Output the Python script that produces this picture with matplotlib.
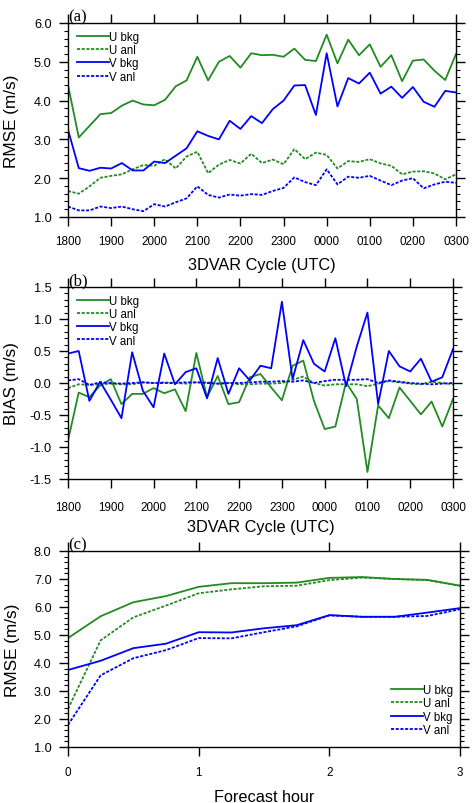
import matplotlib
matplotlib.use("Agg")
import matplotlib.pyplot as plt
from matplotlib.ticker import MultipleLocator, FormatStrFormatter

# ---------------- data ----------------
cycle_labels = ["1800", "1900", "2000", "2100", "2200", "2300", "0000", "0100", "0200", "0300"]

# panel (a) RMSE per 15-min cycle (37 cycles, 1800 -> 0300 UTC)
rmse_u_bkg = [4.40, 3.05, 3.35, 3.65, 3.68, 3.87, 4.00, 3.90, 3.88, 4.02, 4.37, 4.52, 5.13,
              4.52, 5.00, 5.15, 4.85, 5.22, 5.17, 5.18, 5.13, 5.34, 5.05, 5.02, 5.70, 4.96,
              5.57, 5.17, 5.45, 4.87, 5.17, 4.50, 5.03, 5.06, 4.77, 4.53, 5.20]
rmse_u_anl = [1.67, 1.60, 1.79, 2.01, 2.06, 2.10, 2.23, 2.34, 2.32, 2.49, 2.25, 2.56, 2.68,
              2.13, 2.35, 2.47, 2.38, 2.63, 2.39, 2.48, 2.36, 2.75, 2.49, 2.66, 2.60, 2.25,
              2.44, 2.42, 2.49, 2.38, 2.32, 2.10, 2.17, 2.18, 2.12, 1.97, 2.10]
rmse_v_bkg = [3.25, 2.26, 2.19, 2.27, 2.25, 2.39, 2.20, 2.20, 2.43, 2.39, 2.58, 2.77, 3.21,
              3.09, 3.00, 3.48, 3.27, 3.60, 3.42, 3.78, 4.00, 4.39, 4.40, 3.63, 5.22, 3.85,
              4.58, 4.44, 4.72, 4.18, 4.36, 4.07, 4.35, 3.97, 3.84, 4.25, 4.21]
rmse_v_anl = [1.27, 1.17, 1.17, 1.27, 1.23, 1.27, 1.20, 1.15, 1.33, 1.27, 1.38, 1.48, 1.79,
              1.57, 1.50, 1.58, 1.55, 1.59, 1.57, 1.67, 1.75, 2.02, 1.90, 1.82, 2.23, 1.84,
              2.04, 2.01, 2.06, 1.94, 1.82, 1.94, 2.00, 1.74, 1.84, 1.91, 1.88]

# panel (b) BIAS per cycle
bias_u_bkg = [-0.90, -0.15, -0.22, -0.04, 0.06, -0.33, -0.17, -0.17, -0.08, -0.16, -0.10, -0.44, 0.47,
              -0.22, 0.11, -0.33, -0.30, 0.09, 0.14, -0.07, -0.27, 0.27, 0.35, -0.28, -0.72, -0.68,
              0.01, -0.25, -1.39, -0.35, -0.55, -0.07, -0.28, -0.49, -0.29, -0.68, -0.25]
bias_u_anl = [-0.08, -0.02, -0.03, -0.02, -0.01, -0.02, -0.02, 0.01, 0.00, 0.01, 0.00, -0.01, 0.01,
              0.01, -0.01, 0.00, -0.02, -0.02, -0.01, -0.01, 0.00, 0.05, 0.10, 0.00, -0.04, -0.02,
              -0.02, -0.02, -0.05, -0.01, 0.03, 0.01, -0.01, -0.02, 0.02, 0.00, -0.02]
bias_v_bkg = [0.46, 0.50, -0.28, 0.02, -0.26, -0.55, 0.48, -0.12, -0.38, 0.46, -0.02, 0.17, 0.23,
              -0.24, 0.39, -0.17, 0.23, 0.04, 0.27, 0.23, 1.27, 0.06, 0.67, 0.30, 0.18, 0.70,
              -0.05, 0.57, 1.10, -0.33, 0.50, 0.26, 0.18, 0.38, 0.02, 0.09, 0.53]
bias_v_anl = [0.04, 0.06, -0.03, 0.01, 0.00, -0.01, 0.00, 0.01, 0.00, 0.00, 0.00, 0.01, 0.01,
              0.00, -0.01, 0.00, 0.00, 0.01, 0.02, 0.02, 0.03, 0.02, 0.04, 0.00, 0.03, 0.05,
              0.05, 0.05, 0.06, 0.00, 0.04, 0.02, 0.00, -0.01, -0.02, -0.01, 0.00]

# panel (c) RMSE vs forecast hour
fcst_hour = [0.0, 0.25, 0.5, 0.75, 1.0, 1.25, 1.5, 1.75, 2.0, 2.25, 2.5, 2.75, 3.0]
fc_u_bkg = [4.89, 5.67, 6.17, 6.39, 6.72, 6.85, 6.85, 6.87, 7.04, 7.07, 7.00, 6.97, 6.76]
fc_u_anl = [2.36, 4.81, 5.63, 6.05, 6.49, 6.63, 6.74, 6.76, 6.96, 7.05, 7.00, 6.96, 6.76]
fc_v_bkg = [3.75, 4.08, 4.53, 4.69, 5.10, 5.09, 5.24, 5.35, 5.71, 5.65, 5.65, 5.80, 5.96]
fc_v_anl = [1.79, 3.56, 4.17, 4.46, 4.89, 4.88, 5.10, 5.31, 5.70, 5.65, 5.65, 5.68, 5.92]

series_names = ["U bkg", "U anl", "V bkg", "V anl"]

# ---------------- style ----------------
GREEN = "#228B22"
BLUE = "#0000FF"
DOT = (0, (1.7, 0.9))
LW = 1.3
SANS = ["Liberation Sans", "DejaVu Sans"]
SERIF = ["Liberation Serif", "DejaVu Serif"]
plt.rcParams["font.family"] = SANS

fig = plt.figure(figsize=(4.74, 8.04), dpi=100)
W, H = 474.0, 804.0


def make_axes(l, t, r, b):
    return fig.add_axes([l / W, 1 - b / H, (r - l) / W, (b - t) / H])


def style_axes(ax, xpad):
    for s in ax.spines.values():
        s.set_linewidth(1.0)
    ax.tick_params(which="both", direction="out", top=True, right=True,
                   labeltop=False, labelright=False, width=1.0, colors="black")
    ax.tick_params(which="major", length=6.3)
    ax.tick_params(axis="x", which="major", pad=xpad, labelsize=8.4)
    ax.tick_params(axis="y", which="major", pad=5.5, labelsize=9.2)
    ax.tick_params(which="minor", length=2.6, width=0.8)
    ax.tick_params(axis="x", which="minor", bottom=False, top=False)


def add_series(ax, x, ub, ua, vb, va):
    ax.plot(x, ub, color=GREEN, lw=LW, label=series_names[0])
    ax.plot(x, ua, color=GREEN, lw=LW, ls=DOT, label=series_names[1])
    ax.plot(x, vb, color=BLUE, lw=LW, label=series_names[2])
    ax.plot(x, va, color=BLUE, lw=LW, ls=DOT, label=series_names[3])


def add_legend(ax, anchor):
    return ax.legend(loc="upper left", bbox_to_anchor=anchor, frameon=False, fontsize=8.3,
                     handlelength=2.75, handletextpad=0.0, labelspacing=0.1,
                     borderpad=0.0, borderaxespad=0.0)


cycles = list(range(len(rmse_u_bkg)))
tick_pos = cycles[::4]

# ---- panel (a) ----
axa = make_axes(68, 24, 456, 218)
add_series(axa, cycles, rmse_u_bkg, rmse_u_anl, rmse_v_bkg, rmse_v_anl)
axa.set_xlim(0, 36)
axa.set_ylim(1.0, 6.0)
axa.set_xticks(tick_pos)
axa.set_xticklabels(cycle_labels)
axa.yaxis.set_major_locator(MultipleLocator(1.0))
axa.yaxis.set_minor_locator(MultipleLocator(0.2))
axa.yaxis.set_major_formatter(FormatStrFormatter("%.1f"))
style_axes(axa, 6.8)
axa.set_ylabel("RMSE (m/s)", fontsize=12.3)
axa.set_xlabel("3DVAR Cycle (UTC)", fontsize=11.7)
axa.yaxis.set_label_coords(-0.125, 0.5)
axa.xaxis.set_label_coords(0.5, -0.205)
add_legend(axa, (0.023, 0.958))
axa.text(0.0, 0.995, "(a)", transform=axa.transAxes, ha="left", va="bottom",
         family=SERIF, fontsize=12)

# ---- panel (b) ----
axb = make_axes(68, 288, 453, 480)
add_series(axb, cycles, bias_u_bkg, bias_u_anl, bias_v_bkg, bias_v_anl)
axb.set_xlim(0, 36)
axb.set_ylim(-1.5, 1.5)
axb.set_xticks(tick_pos)
axb.set_xticklabels(cycle_labels)
axb.yaxis.set_major_locator(MultipleLocator(0.5))
axb.yaxis.set_minor_locator(MultipleLocator(0.1))
axb.yaxis.set_major_formatter(FormatStrFormatter("%.1f"))
style_axes(axb, 9.8)
axb.set_ylabel("BIAS (m/s)", fontsize=12.3)
axb.set_xlabel("3DVAR Cycle (UTC)", fontsize=11.7)
axb.yaxis.set_label_coords(-0.126, 0.5)
axb.xaxis.set_label_coords(0.5, -0.21)
add_legend(axb, (0.023, 0.958))
axb.text(0.0, 0.995, "(b)", transform=axb.transAxes, ha="left", va="bottom",
         family=SERIF, fontsize=12)

# ---- panel (c) ----
axc = make_axes(68, 552, 460, 748)
add_series(axc, fcst_hour, fc_u_bkg, fc_u_anl, fc_v_bkg, fc_v_anl)
axc.set_xlim(0, 3)
axc.set_ylim(1.0, 8.0)
axc.set_xticks([0, 1, 2, 3])
axc.set_xticklabels(["0", "1", "2", "3"])
axc.yaxis.set_major_locator(MultipleLocator(1.0))
axc.yaxis.set_minor_locator(MultipleLocator(0.2))
axc.yaxis.set_major_formatter(FormatStrFormatter("%.1f"))
style_axes(axc, 7.5)
axc.set_ylabel("RMSE (m/s)", fontsize=12.3)
axc.set_xlabel("Forecast hour", fontsize=11.7)
axc.yaxis.set_label_coords(-0.123, 0.5)
axc.xaxis.set_label_coords(0.5, -0.215)
add_legend(axc, (0.825, 0.32))
axc.text(0.0, 0.995, "(c)", transform=axc.transAxes, ha="left", va="bottom",
         family=SERIF, fontsize=12)

fig.savefig("out.png", dpi=100)
